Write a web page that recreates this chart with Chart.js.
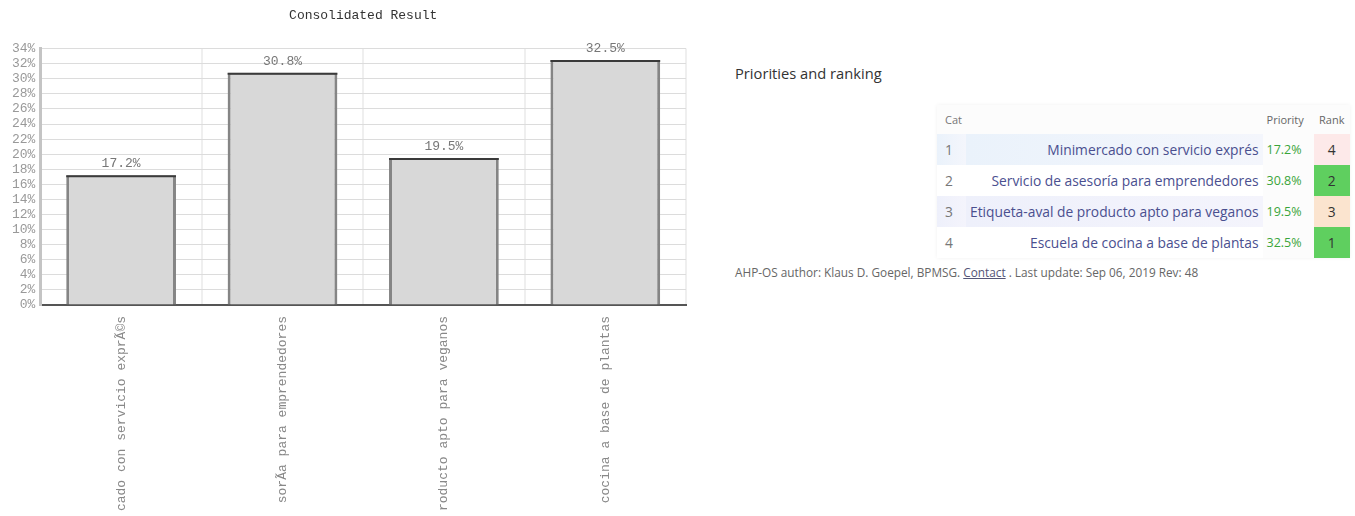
<!DOCTYPE html>
<html>
<head>
<meta charset="utf-8">
<script src="https://cdn.jsdelivr.net/npm/chart.js@4.4.0/dist/chart.umd.min.js"></script>
<style>
  html, body { margin: 0; padding: 0; background: #fff; width: 1355px; height: 516px; overflow: hidden; }
  #chartBox { position: absolute; left: 0; top: 0; width: 695px; height: 516px; }
  #side { position: absolute; left: 735px; top: 0; font-family: "Open Sans", sans-serif; color: #333; }
  #side h3 { position: absolute; left: 0; top: 63px; margin: 0; font-size: 14.7px; font-weight: normal; white-space: nowrap; color: #333; }
  #tbl { position: absolute; left: 202px; top: 105px; width: 413px; border-collapse: collapse; background: #fcfcfc; box-shadow: 0 0 4px rgba(0,0,0,0.06); font-size: 13.8px; }
  #tbl td, #tbl th { padding: 0 4px; height: 31px; white-space: nowrap; }
  #tbl th { font-weight: normal; font-size: 11px; color: #666; height: 29px; }
  #tbl .num { color: #777; text-align: left; width: 16px; padding-left: 8px; }
  #tbl .name { color: #4a4f8f; text-align: right; }
  #tbl .pri { color: #3aa53a; font-size: 12.5px; width: 46px; }
  #tbl .rank { text-align: center; width: 30px; color: #333; }
  #foot { position: absolute; left: 0; top: 264px; font-size: 11.8px; color: #666; white-space: nowrap; }
  #foot a { color: #557; text-decoration: underline; }
</style>
</head>
<body>
<div id="chartBox"><canvas id="c"></canvas></div>
<div id="side">
  <h3>Priorities and ranking</h3>
  <table id="tbl"></table>
  <div id="foot">AHP-OS author: Klaus D. Goepel, BPMSG. <a>Contact</a> . Last update: Sep 06, 2019 Rev: 48</div>
</div>
<script>
// ---- data ----
const chartTitle = "Consolidated Result";
const axisLabels = ["cado con servicio exprÃ©s", "sorÃ­a para emprendedores", "roducto apto para veganos", " cocina a base de plantas"];
const fullNames = ["Minimercado con servicio exprés", "Servicio de asesoría para emprendedores", "Etiqueta-aval de producto apto para veganos", "Escuela de cocina a base de plantas"];
const priorities = [17.2, 30.8, 19.5, 32.5];
const ranks = [4, 2, 3, 1];
const yMin = 0, yMax = 34, yStep = 2;

// ---- side table ----
const rankColors = {1: "#5fcf5f", 2: "#5fcf5f", 3: "#fbe4cf", 4: "#fde9e9"};
const rowBg = ["linear-gradient(90deg,#eaf2fb,#f4f6fc)", "#ffffff", "linear-gradient(90deg,#eef0fb,#f4f4fc)", "#ffffff"];
let html = '<tr><th class="num" style="text-align:left">Cat</th><th></th><th style="text-align:left">Priority</th><th>Rank</th></tr>';
fullNames.forEach((n, i) => {
  html += '<tr>' +
    '<td class="num" style="background:' + rowBg[i] + '">' + (i + 1) + '</td>' +
    '<td class="name" style="background:' + rowBg[i] + '">' + n + '</td>' +
    '<td class="pri">' + priorities[i].toFixed(1) + '%</td>' +
    '<td class="rank" style="background:' + rankColors[ranks[i]] + '">' + ranks[i] + '</td></tr>';
});
document.getElementById('tbl').innerHTML = html;

// ---- chart ----
const MONO = '"Liberation Mono", "DejaVu Sans Mono", monospace';
const valueLabels = {
  id: 'valueLabels',
  afterDatasetsDraw(chart) {
    const ctx = chart.ctx;
    const meta = chart.getDatasetMeta(0);
    ctx.save();
    meta.data.forEach((bar, i) => {
      const half = bar.width / 2;
      ctx.strokeStyle = '#3a3a3a';
      ctx.lineWidth = 2;
      ctx.beginPath();
      ctx.moveTo(bar.x - half, bar.y + 1);
      ctx.lineTo(bar.x + half, bar.y + 1);
      ctx.stroke();
      ctx.fillStyle = '#777';
      ctx.font = '13px ' + MONO;
      ctx.textAlign = 'center';
      ctx.textBaseline = 'bottom';
      ctx.fillText(priorities[i].toFixed(1) + '%', bar.x, bar.y - 5);
    });
    ctx.restore();
  }
};

new Chart(document.getElementById('c'), {
  type: 'bar',
  data: {
    labels: axisLabels,
    datasets: [{
      data: priorities,
      backgroundColor: '#d8d8d8',
      borderColor: '#858585',
      borderWidth: {left: 3, right: 3, top: 2, bottom: 0},
      borderSkipped: 'bottom',
      barPercentage: 0.68,
      categoryPercentage: 1.0
    }]
  },
  options: {
    responsive: true,
    maintainAspectRatio: false,
    animation: false,
    layout: { padding: { left: 7, right: 9, top: 8, bottom: 0 } },
    plugins: {
      legend: { display: false },
      tooltip: { enabled: false },
      title: {
        display: true,
        text: chartTitle,
        fullSize: false,
        color: '#333',
        font: { family: MONO, size: 13, weight: 'normal' },
        padding: { top: 0, bottom: 25 }
      }
    },
    scales: {
      x: {
        afterFit: s => { s.height = 211; },
        grid: { display: true, offset: true, color: '#efefef', lineWidth: 2, drawTicks: false },
        border: { display: true, color: '#555', width: 2 },
        ticks: {
          color: '#888',
          font: { family: MONO, size: 13 },
          minRotation: 90, maxRotation: 90,
          padding: 11,
          autoSkip: false
        }
      },
      y: {
        min: yMin, max: yMax,
        grid: { color: '#dcdcdc', lineWidth: 1, drawTicks: false },
        border: { display: true, color: '#c4c4c4', width: 3 },
        ticks: {
          stepSize: yStep,
          autoSkip: false,
          color: '#999',
          font: { family: MONO, size: 13 },
          padding: 5,
          callback: v => v + '%'
        }
      }
    }
  },
  plugins: [valueLabels]
});
</script>
</body>
</html>
